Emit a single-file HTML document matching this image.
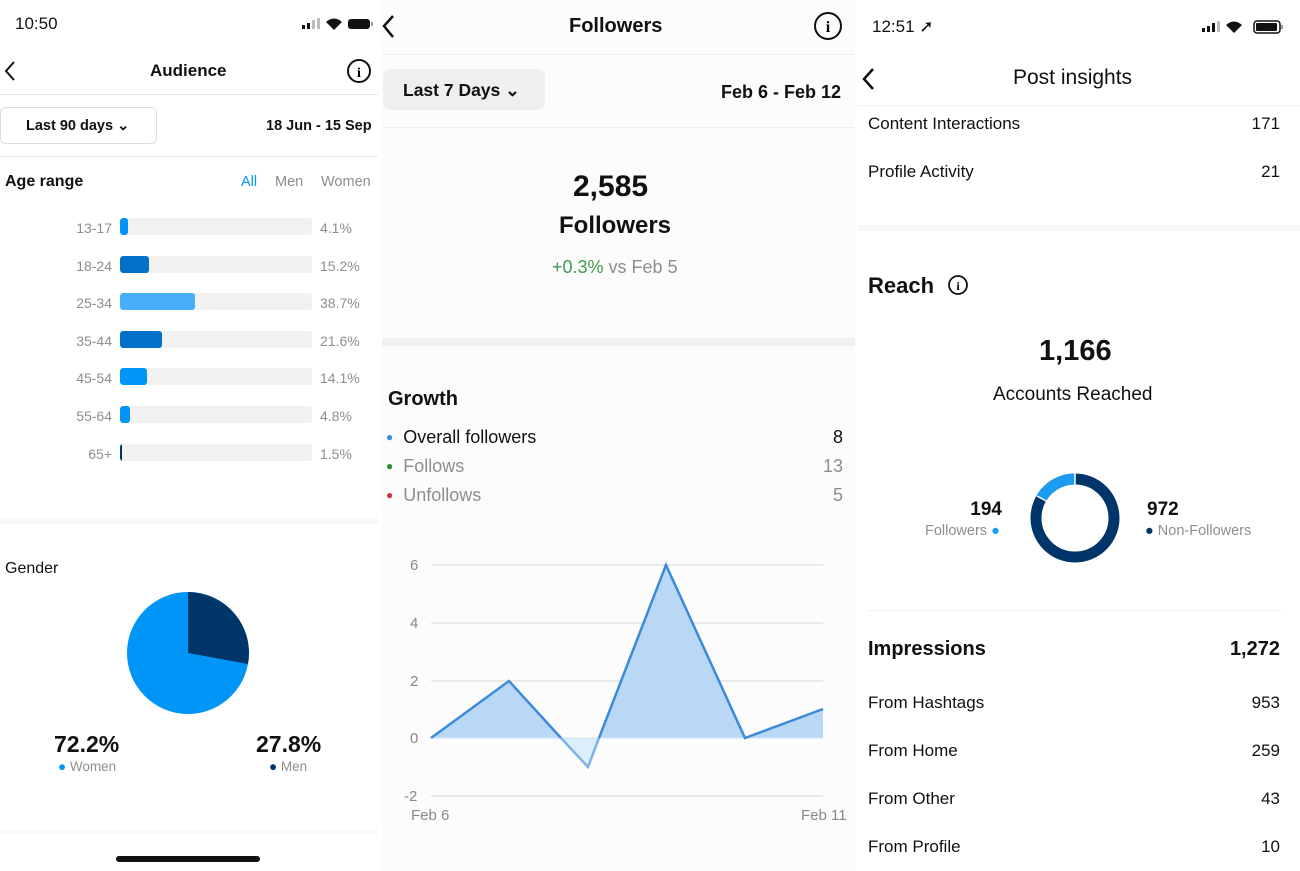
<!DOCTYPE html>
<html><head><meta charset="utf-8"><style>
*{margin:0;padding:0;box-sizing:border-box}
body{width:1300px;height:871px;background:#fff;font-family:"Liberation Sans",sans-serif;position:relative;overflow:hidden;color:#111}
.t{position:absolute;white-space:nowrap;line-height:20px}
.b{font-weight:bold}
.g{color:#8e8e8e}
.hl{position:absolute;height:1px;background:#e8e8e8}
.trk{position:absolute;left:120px;width:192px;height:17px;background:#f1f1f1;border-radius:3px;overflow:hidden}
.trk i{position:absolute;left:0;top:0;bottom:0;border-radius:3px}
.r{text-align:right}
</style></head><body>
<!-- Left panel -->
<div class="t" style="left:15px;top:14px;font-size:17px">10:50</div>
<svg style="position:absolute;left:300px;top:16px" width="75" height="16"><rect x="2" y="9" width="3" height="4" fill="#111"/><rect x="7" y="7" width="3" height="6" fill="#111"/><rect x="12" y="4" width="3" height="9" fill="#bbb"/><rect x="17" y="2" width="3" height="11" fill="#bbb"/><path d="M26 6 Q34 -1 42 6 L34 14Z" fill="#111"/><rect x="48" y="3" width="22" height="10" rx="3" fill="#111"/><rect x="71" y="6" width="2" height="4" fill="#999"/></svg>
<svg style="position:absolute;left:2px;top:60px" width="16" height="22"><path d="M12 2 L4 11 L12 20" stroke="#111" stroke-width="2" fill="none"/></svg>
<div class="t b" style="left:150px;top:61px;font-size:17px">Audience</div>
<svg style="position:absolute;left:346px;top:58px" width="26" height="26"><circle cx="13" cy="13" r="11" stroke="#111" stroke-width="2" fill="none"/><text x="13" y="19" font-size="14" font-weight="bold" text-anchor="middle" font-family="Liberation Serif">i</text></svg>
<div class="hl" style="left:0;top:94px;width:378px"></div>
<div style="position:absolute;left:0;top:107px;width:157px;height:37px;border:1px solid #ddd;border-radius:6px"></div>
<div class="t b" style="left:26px;top:116px;font-size:14.5px">Last 90 days ⌄</div>
<div class="t b" style="left:266px;top:116px;font-size:14.5px">18 Jun - 15 Sep</div>
<div class="hl" style="left:0;top:156px;width:378px"></div>
<div class="t b" style="left:5px;top:172px;font-size:16px">Age range</div>
<div class="t" style="left:241px;top:172px;font-size:14.5px;color:#0095f6">All</div>
<div class="t g" style="left:275px;top:172px;font-size:14.5px">Men</div>
<div class="t g" style="left:321px;top:172px;font-size:14.5px">Women</div>

<div class="t g r" style="left:50px;width:62px;top:218px;font-size:14px">13-17</div><div class="trk" style="top:218px"><i style="width:8px;background:#0095f6"></i></div><div class="t g" style="left:320px;top:218px;font-size:14px">4.1%</div>
<div class="t g r" style="left:50px;width:62px;top:256px;font-size:14px">18-24</div><div class="trk" style="top:256px"><i style="width:29px;background:#0070c9"></i></div><div class="t g" style="left:320px;top:256px;font-size:14px">15.2%</div>
<div class="t g r" style="left:50px;width:62px;top:293px;font-size:14px">25-34</div><div class="trk" style="top:293px"><i style="width:75px;background:#47aefc"></i></div><div class="t g" style="left:320px;top:293px;font-size:14px">38.7%</div>
<div class="t g r" style="left:50px;width:62px;top:331px;font-size:14px">35-44</div><div class="trk" style="top:331px"><i style="width:42px;background:#0070c9"></i></div><div class="t g" style="left:320px;top:331px;font-size:14px">21.6%</div>
<div class="t g r" style="left:50px;width:62px;top:368px;font-size:14px">45-54</div><div class="trk" style="top:368px"><i style="width:27px;background:#0095f6"></i></div><div class="t g" style="left:320px;top:368px;font-size:14px">14.1%</div>
<div class="t g r" style="left:50px;width:62px;top:406px;font-size:14px">55-64</div><div class="trk" style="top:406px"><i style="width:10px;background:#0095f6"></i></div><div class="t g" style="left:320px;top:406px;font-size:14px">4.8%</div>
<div class="t g r" style="left:50px;width:62px;top:444px;font-size:14px">65+</div><div class="trk" style="top:444px"><i style="width:2px;background:#003366"></i></div><div class="t g" style="left:320px;top:444px;font-size:14px">1.5%</div>

<div style="position:absolute;left:0;top:518px;width:378px;height:6px;background:#f7f7f7"></div>
<div class="t" style="left:5px;top:559px;font-size:16px">Gender</div>
<svg style="position:absolute;left:120px;top:585px" width="140" height="140"><circle cx="68" cy="68" r="61" fill="#0095f6"/><path d="M68 68 L68 7 A61 61 0 0 1 128 79 Z" fill="#003569"/></svg>
<div class="t b" style="left:54px;top:734px;font-size:23px">72.2%</div>
<div class="t g" style="left:58px;top:757px;font-size:13.5px"><span style="color:#0095f6">●</span> Women</div>
<div class="t b" style="left:256px;top:734px;font-size:23px">27.8%</div>
<div class="t g" style="left:269px;top:757px;font-size:13.5px"><span style="color:#003569">●</span> Men</div>
<div style="position:absolute;left:0;top:830px;width:378px;height:4px;background:#f7f7f7"></div>
<div style="position:absolute;left:116px;top:856px;width:144px;height:6px;border-radius:3px;background:#111"></div>

<!-- Middle panel -->
<div style="position:absolute;left:382px;top:0;width:473px;height:871px;background:#fcfcfc"></div>
<svg style="position:absolute;left:380px;top:14px" width="16" height="26"><path d="M13 2 L4 12 L13 23" stroke="#111" stroke-width="2.5" fill="none"/></svg>
<div class="t b" style="left:569px;top:16px;font-size:20px">Followers</div>
<svg style="position:absolute;left:813px;top:11px" width="30" height="30"><circle cx="15" cy="15" r="13" stroke="#111" stroke-width="2" fill="none"/><text x="15" y="21" font-size="16" font-weight="bold" text-anchor="middle" font-family="Liberation Serif">i</text></svg>
<div class="hl" style="left:382px;top:54px;width:473px;background:#eee"></div>
<div style="position:absolute;left:383px;top:69px;width:162px;height:41px;background:#efefef;border-radius:8px"></div>
<div class="t b" style="left:403px;top:80px;font-size:17.5px">Last 7 Days ⌄</div>
<div class="t b" style="left:721px;top:82px;font-size:18px">Feb 6 - Feb 12</div>
<div class="hl" style="left:382px;top:127px;width:473px;background:#eee"></div>
<div class="t b" style="left:573px;top:172px;font-size:30px;line-height:30px">2,585</div>
<div class="t b" style="left:559px;top:213px;font-size:24px;line-height:26px">Followers</div>
<div class="t" style="left:552px;top:257px;font-size:18px;color:#8e8e8e"><span style="color:#3d9a4a">+0.3%</span> vs Feb 5</div>
<div style="position:absolute;left:382px;top:338px;width:473px;height:8px;background:#f0f0f0"></div>
<div class="t b" style="left:388px;top:389px;font-size:20px">Growth</div>
<div class="t" style="left:386px;top:427px;font-size:18px"><span style="color:#3b8fe0;font-size:12px;position:relative;top:-2px">●</span>&nbsp; Overall followers</div>
<div class="t g" style="left:386px;top:456px;font-size:18px"><span style="color:#2f8a3a;font-size:12px;position:relative;top:-2px">●</span>&nbsp; Follows</div>
<div class="t g" style="left:386px;top:485px;font-size:18px"><span style="color:#d0343c;font-size:12px;position:relative;top:-2px">●</span>&nbsp; Unfollows</div>
<div class="t r" style="left:790px;width:53px;top:427px;font-size:18px">8</div>
<div class="t g r" style="left:790px;width:53px;top:456px;font-size:18px">13</div>
<div class="t g r" style="left:790px;width:53px;top:485px;font-size:18px">5</div>
<svg style="position:absolute;left:382px;top:540px" width="473" height="300" font-family="Liberation Sans" font-size="15" fill="#888">
<g stroke="#e4e4e4" stroke-width="1.5"><line x1="49" y1="25" x2="441" y2="25"/><line x1="49" y1="83" x2="441" y2="83"/><line x1="49" y1="141" x2="441" y2="141"/><line x1="49" y1="256" x2="441" y2="256"/></g>
<text x="28" y="30">6</text><text x="28" y="88">4</text><text x="28" y="146">2</text><text x="28" y="203">0</text><text x="22" y="261">-2</text>
<text x="29" y="280">Feb 6</text><text x="419" y="280">Feb 11</text>
<polygon points="49,198 127,141 179,198" fill="#b9d8f6"/>
<polygon points="179,198 206,227 217,198" fill="#ddeefb"/>
<polygon points="217,198 284,25 363,198" fill="#b9d8f6"/>
<polygon points="363,198 441,169 441,198" fill="#b9d8f6"/>
<line x1="49" y1="198" x2="441" y2="198" stroke="#cfe4f8" stroke-width="1"/>
<polyline points="49,198 127,141 179,198" fill="none" stroke="#3d8ad8" stroke-width="2.5"/>
<polyline points="179,198 206,227 217,198" fill="none" stroke="#7fb3e8" stroke-width="2.5"/>
<polyline points="217,198 284,25 363,198 441,169" fill="none" stroke="#3d8ad8" stroke-width="2.5"/>
</svg>

<!-- Right panel -->
<div class="t" style="left:872px;top:17px;font-size:17px">12:51 ➚</div>
<svg style="position:absolute;left:1200px;top:19px" width="86" height="16"><rect x="2" y="9" width="3" height="4" fill="#111"/><rect x="7" y="7" width="3" height="6" fill="#111"/><rect x="12" y="4" width="3" height="9" fill="#111"/><rect x="17" y="2" width="3" height="11" fill="#bbb"/><path d="M26 6 Q34 -1 42 6 L34 14Z" fill="#111"/><rect x="54" y="2" width="26" height="12" rx="3" fill="none" stroke="#111" stroke-width="1.5"/><rect x="56" y="4" width="21" height="8" rx="1" fill="#111"/><rect x="81" y="6" width="2" height="4" fill="#999"/></svg>
<svg style="position:absolute;left:858px;top:66px" width="20" height="26"><path d="M15 3 L6 13 L15 23" stroke="#111" stroke-width="2.5" fill="none"/></svg>
<div class="t" style="left:1013px;top:68px;font-size:21px">Post insights</div>
<div class="hl" style="left:858px;top:105px;width:442px;background:#eee"></div>
<div class="t" style="left:868px;top:114px;font-size:17px">Content Interactions</div><div class="t r" style="left:1200px;width:80px;top:114px;font-size:17px">171</div>
<div class="t" style="left:868px;top:162px;font-size:17px">Profile Activity</div><div class="t r" style="left:1200px;width:80px;top:162px;font-size:17px">21</div>
<div style="position:absolute;left:858px;top:225px;width:442px;height:6px;background:#f7f7f7"></div>
<div class="t b" style="left:868px;top:274px;font-size:22px;line-height:24px">Reach</div>
<svg style="position:absolute;left:947px;top:274px" width="22" height="22"><circle cx="11" cy="11" r="9" stroke="#111" stroke-width="1.8" fill="none"/><text x="11" y="16" font-size="12" font-weight="bold" text-anchor="middle" font-family="Liberation Serif">i</text></svg>
<div class="t b" style="left:1039px;top:336px;font-size:29px;line-height:30px">1,166</div>
<div class="t" style="left:993px;top:385px;font-size:19px">Accounts Reached</div>
<svg style="position:absolute;left:1025px;top:468px" width="100" height="100"><circle cx="50" cy="50" r="39" fill="none" stroke="#003569" stroke-width="11"/><path d="M50 11 A39 39 0 0 0 16.2 30.5" fill="none" stroke="#1c9cf0" stroke-width="11"/><line x1="50" y1="5" x2="50" y2="17" stroke="#fff" stroke-width="1.5"/><line x1="12" y1="28" x2="22" y2="33.5" stroke="#fff" stroke-width="1.5"/></svg>
<div class="t b r" style="left:940px;width:62px;top:500px;font-size:19px">194</div>
<div class="t g" style="left:925px;top:521px;font-size:14.5px">Followers <span style="color:#1c9cf0">●</span></div>
<div class="t b" style="left:1147px;top:500px;font-size:19px">972</div>
<div class="t g" style="left:1145px;top:521px;font-size:14.5px"><span style="color:#003569">●</span> Non-Followers</div>
<div class="hl" style="left:868px;top:610px;width:413px;background:#f0f0f0"></div>
<div class="t b" style="left:868px;top:639px;font-size:20px">Impressions</div><div class="t b r" style="left:1180px;width:100px;top:639px;font-size:20px">1,272</div>
<div class="t" style="left:868px;top:693px;font-size:17px">From Hashtags</div><div class="t r" style="left:1200px;width:80px;top:693px;font-size:17px">953</div>
<div class="t" style="left:868px;top:741px;font-size:17px">From Home</div><div class="t r" style="left:1200px;width:80px;top:741px;font-size:17px">259</div>
<div class="t" style="left:868px;top:789px;font-size:17px">From Other</div><div class="t r" style="left:1200px;width:80px;top:789px;font-size:17px">43</div>
<div class="t" style="left:868px;top:837px;font-size:17px">From Profile</div><div class="t r" style="left:1200px;width:80px;top:837px;font-size:17px">10</div>
</body></html>
